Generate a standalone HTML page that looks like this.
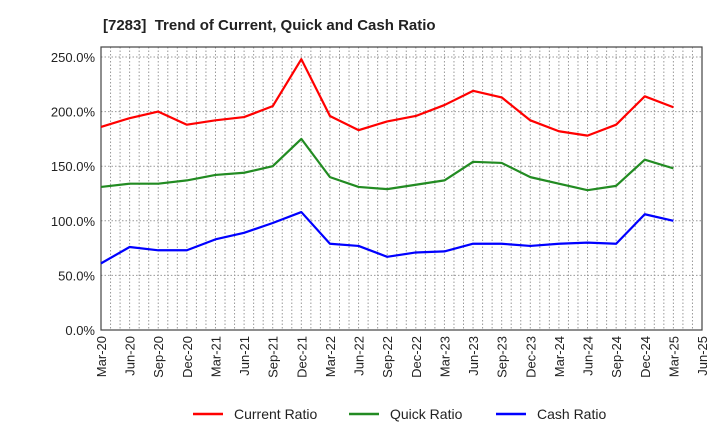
<!DOCTYPE html>
<html><head><meta charset="utf-8"><style>
body{margin:0;background:#fff;}
svg text{font-family:"Liberation Sans",sans-serif;}
</style></head><body>
<svg id="chart" width="720" height="440" xmlns="http://www.w3.org/2000/svg">
<text x="103" y="30" font-size="15" font-weight="bold" fill="#222">[7283]&#160; Trend of Current, Quick and Cash Ratio</text>
<g id="grid"></g>
<g id="axes"></g>
<g id="series"></g>
<g>
<g><line x1="193" y1="414" x2="223" y2="414" stroke="#f00" stroke-width="2.5"/><text x="234" y="419" font-size="14" fill="#222">Current Ratio</text></g>
<g><line x1="349" y1="414" x2="379" y2="414" stroke="#228B22" stroke-width="2.5"/><text x="390" y="419" font-size="14" fill="#222">Quick Ratio</text></g>
<g><line x1="496" y1="414" x2="526" y2="414" stroke="#00f" stroke-width="2.5"/><text x="537" y="419" font-size="14" fill="#222">Cash Ratio</text></g>
</g>
</svg>
<script>
const categories=["Mar-20","Jun-20","Sep-20","Dec-20","Mar-21","Jun-21","Sep-21","Dec-21","Mar-22","Jun-22","Sep-22","Dec-22","Mar-23","Jun-23","Sep-23","Dec-23","Mar-24","Jun-24","Sep-24","Dec-24","Mar-25","Jun-25"];
const currentRatio=[186,194,200,188,192,195,205,248,196,183,191,196,206,219,213,192,182,178,188,214,204];
const quickRatio=[131,134,134,137,142,144,150,175,140,131,129,133,137,154,153,140,134,128,132,156,148];
const cashRatio=[61,76,73,73,83,89,98,108,79,77,67,71,72,79,79,77,79,80,79,106,100];
const yTicks=[0,50,100,150,200,250];
const yTickLabels=["0.0%","50.0%","100.0%","150.0%","200.0%","250.0%"];
const L=101,R=702,T=47,B=330,YMAX=250,YTOP=57;
const NS="http://www.w3.org/2000/svg";
const xs=i=>L+(R-L)*i/(categories.length-1);
const ys=v=>B-(B-YTOP)*v/YMAX;
function mk(t,a,p){const e=document.createElementNS(NS,t);for(const k in a)e.setAttribute(k,a[k]);p.appendChild(e);return e;}
const grid=document.getElementById('grid'),axes=document.getElementById('axes'),ser=document.getElementById('series');
const nM=(categories.length-1)*3;
for(let m=1;m<nM;m++){const x=L+(R-L)*m/nM;
const g=mk('line',{x1:x,y1:T,x2:x,y2:B,stroke:'#999','stroke-dasharray':'1.5,2','stroke-width':1},grid);

}
yTicks.forEach((v,i)=>{const y=ys(v);
const g=mk('line',{x1:L,y1:y,x2:R,y2:y,stroke:'#999','stroke-dasharray':'1.5,2','stroke-width':1},grid);


const t=mk('text',{x:L-6,y:y+5,'font-size':13,'text-anchor':'end',fill:'#222'},axes);t.textContent=yTickLabels[i];

});
const fr=mk('rect',{x:L,y:T,width:R-L,height:B-T,fill:'none',stroke:'#444','stroke-width':1.2},axes);


categories.forEach((c,i)=>{const x=xs(i);
const t=mk('text',{x:0,y:0,'font-size':13,'text-anchor':'end',fill:'#222',transform:`translate(${x+5},336) rotate(-90)`},axes);t.textContent=c;

});
[[currentRatio,'#f00','current-ratio-line'],[quickRatio,'#228B22','quick-ratio-line'],[cashRatio,'#00f','cash-ratio-line']].forEach(([d,c,n])=>{
const p=mk('polyline',{points:d.map((v,i)=>xs(i)+','+ys(v)).join(' '),fill:'none',stroke:c,'stroke-width':2.2,'stroke-linejoin':'round'},ser);

});
</script>
</body></html>
